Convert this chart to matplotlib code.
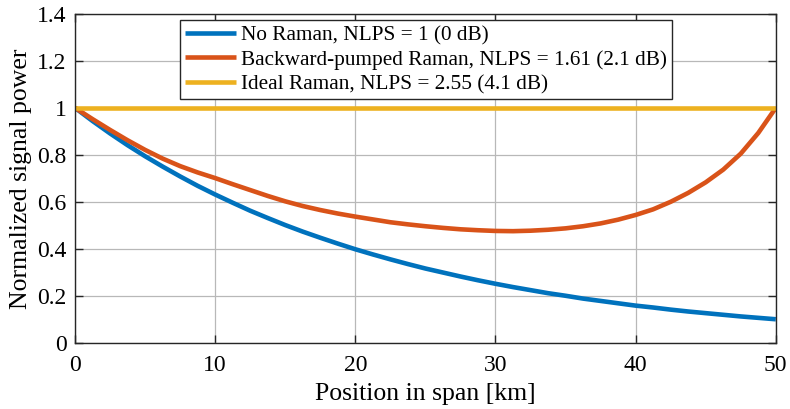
import numpy as np
import matplotlib
matplotlib.use("Agg")
import matplotlib.pyplot as plt

# position along the span [km]
position_km = [0, 1.25, 2.5, 3.75, 5, 6.25, 7.5, 8.75, 10, 11.25, 12.5, 13.75, 15, 16.25,
               17.5, 18.75, 20, 21.25, 22.5, 23.75, 25, 26.25, 27.5, 28.75, 30, 31.25,
               32.5, 33.75, 35, 36.25, 37.5, 38.75, 40, 41.25, 42.5, 43.75, 45, 46.25,
               47.5, 48.75, 50]

no_raman = [1.0, 0.944, 0.891, 0.841, 0.794, 0.750, 0.708, 0.668, 0.631, 0.596, 0.562,
            0.531, 0.501, 0.473, 0.447, 0.422, 0.398, 0.376, 0.355, 0.335, 0.316, 0.299,
            0.282, 0.266, 0.251, 0.237, 0.224, 0.211, 0.200, 0.188, 0.178, 0.168, 0.158,
            0.150, 0.141, 0.133, 0.126, 0.119, 0.112, 0.106, 0.100]

backward_raman = [1.0, 0.952, 0.906, 0.862, 0.821, 0.784, 0.752, 0.725, 0.701, 0.675, 0.650,
                  0.625, 0.602, 0.582, 0.565, 0.550, 0.537, 0.525, 0.513, 0.504, 0.496, 0.489,
                  0.483, 0.479, 0.476, 0.475, 0.477, 0.481, 0.487, 0.496, 0.508, 0.524, 0.544,
                  0.568, 0.600, 0.638, 0.683, 0.737, 0.805, 0.893, 1.0]

ideal_raman = [1.0] * len(position_km)

labels = ["No Raman, NLPS = 1 (0 dB)",
          "Backward-pumped Raman, NLPS = 1.61 (2.1 dB)",
          "Ideal Raman, NLPS = 2.55 (4.1 dB)"]
colors = ["#0072BD", "#D95319", "#EDB120"]

plt.rcParams['font.family'] = ['Liberation Serif', 'DejaVu Serif']
plt.rcParams['font.size'] = 17

fig = plt.figure(figsize=(7.9, 4.09), dpi=100)
ax = fig.add_axes([0.095, 0.162, 0.887, 0.804])

for y, lab, c in zip([no_raman, backward_raman, ideal_raman], labels, colors):
    ax.plot(position_km, y, color=c, linewidth=3.3, label=lab, solid_capstyle='butt')

ax.set_xlim(0, 50)
ax.set_ylim(0, 1.4)
ax.set_xticks([0, 10, 20, 30, 40, 50])
ax.set_yticks([0, 0.2, 0.4, 0.6, 0.8, 1.0, 1.2, 1.4])
ax.set_yticklabels(["0", "0.2", "0.4", "0.6", "0.8", "1", "1.2", "1.4"])
ax.grid(True, color="#b8b8b8", linewidth=0.9)
ax.set_axisbelow(True)
ax.tick_params(direction='in', top=True, right=True, length=6, width=1, color='#262626',
               labelsize=17)
ax.tick_params(axis='x', pad=9)
ax.tick_params(axis='y', pad=6)
for s in ax.spines.values():
    s.set_color('#262626')
    s.set_linewidth(1)

ax.set_xlabel("Position in span [km]", fontsize=18.5, labelpad=5)
ax.set_ylabel("Normalized signal power", fontsize=18.5, labelpad=4)

leg = ax.legend(loc='upper left', bbox_to_anchor=(0.15, 0.982), fontsize=15.3,
                handlelength=2.4, handletextpad=0.2, labelspacing=0.22,
                borderpad=0.25, fancybox=False, framealpha=1, edgecolor='#262626',
                borderaxespad=0)
leg.get_frame().set_linewidth(1)

fig.savefig("out.png", dpi=100)
